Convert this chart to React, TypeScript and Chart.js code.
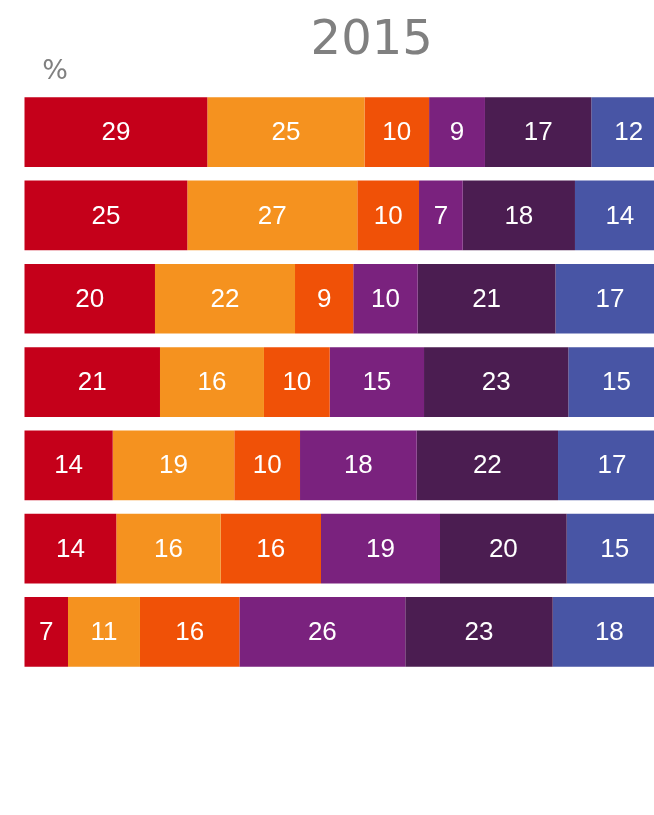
import { useEffect, useRef } from 'react';
import { Chart, registerables } from 'chart.js';

Chart.register(...registerables);

const chartTitle = '2015';
const unitLabel = '%';

const categories = ['Group 1', 'Group 2', 'Group 3', 'Group 4', 'Group 5', 'Group 6', 'Group 7'];

const seriesNames = ['Series 1', 'Series 2', 'Series 3', 'Series 4', 'Series 5', 'Series 6'];

const series1 = [28.5, 25.38, 20.34, 21.12, 13.75, 14.31, 6.78];
const series2 = [24.5, 26.5, 21.83, 16.21, 18.95, 16.27, 11.22];
const series3 = [10.07, 9.62, 9.08, 10.25, 10.25, 15.64, 15.5];
const series4 = [8.71, 6.81, 10.04, 14.7, 18.19, 18.55, 25.86];
const series5 = [16.58, 17.5, 21.49, 22.5, 22.03, 19.75, 22.98];
const series6 = [12, 14, 17, 15, 17, 15, 18];

const seriesColors = ['#C5001A', '#F5921F', '#F05107', '#7A227E', '#4B1D51', '#4855A5'];

// visible axis range (the frame cuts the axis before 100%)
const axisMax = 98.13;
const fullScale = 100;

export default function App() {
  const ref = useRef<HTMLCanvasElement>(null);

  useEffect(() => {
    if (!ref.current) return;
    const allSeries = [series1, series2, series3, series4, series5, series6];

    const decorPlugin = {
      id: 'decor',
      afterDatasetsDraw(chart: any) {
        const { ctx, chartArea } = chart;
        const xScale = chart.scales.x;
        const labelRight = xScale.getPixelForValue(fullScale);
        ctx.save();
        ctx.font = '26px "Liberation Sans", Arial, sans-serif';
        ctx.fillStyle = '#ffffff';
        ctx.textAlign = 'center';
        ctx.textBaseline = 'middle';
        chart.data.datasets.forEach((ds: any, di: number) => {
          const meta = chart.getDatasetMeta(di);
          meta.data.forEach((bar: any, i: number) => {
            const v = ds.data[i] as number;
            const start = Math.max(Math.min(bar.base, bar.x), chartArea.left);
            const end = Math.min(Math.max(bar.base, bar.x), labelRight);
            if (end <= start) return;
            ctx.fillText(String(Math.round(v)), (start + end) / 2, bar.y + 1);
          });
        });
        ctx.restore();
      },
      afterDraw(chart: any) {
        const { ctx } = chart;
        ctx.save();
        ctx.fillStyle = '#808080';
        ctx.textBaseline = 'alphabetic';
        ctx.textAlign = 'center';
        ctx.font = '48px "DejaVu Sans", sans-serif';
        ctx.fillText(chartTitle, 371.7, 54.3);
        ctx.font = '27px "DejaVu Sans", sans-serif';
        ctx.fillText(unitLabel, 55, 79);
        ctx.restore();
      },
    };

    const chart = new Chart(ref.current, {
      type: 'bar',
      data: {
        labels: categories,
        datasets: allSeries.map((d, i) => ({
          label: seriesNames[i],
          data: d,
          backgroundColor: seriesColors[i],
          borderWidth: 0,
          barPercentage: 0.837,
          categoryPercentage: 1,
          clip: false,
        })),
      },
      options: {
        indexAxis: 'y',
        responsive: false,
        animation: false,
        layout: { padding: { left: 24.5, right: 0, top: 90.55, bottom: 126.5 } },
        scales: {
          x: { stacked: true, min: 0, max: axisMax, display: false },
          y: { stacked: true, display: false },
        },
        plugins: {
          legend: { display: false },
          title: { display: false },
          tooltip: { enabled: false },
        },
      },
      plugins: [decorPlugin],
    });
    return () => chart.destroy();
  }, []);

  return (
    <canvas
      ref={ref}
      width={654}
      height={800}
      style={{ display: 'block', width: 654, height: 800, position: 'absolute', left: 0, top: 0 }}
    />
  );
}
